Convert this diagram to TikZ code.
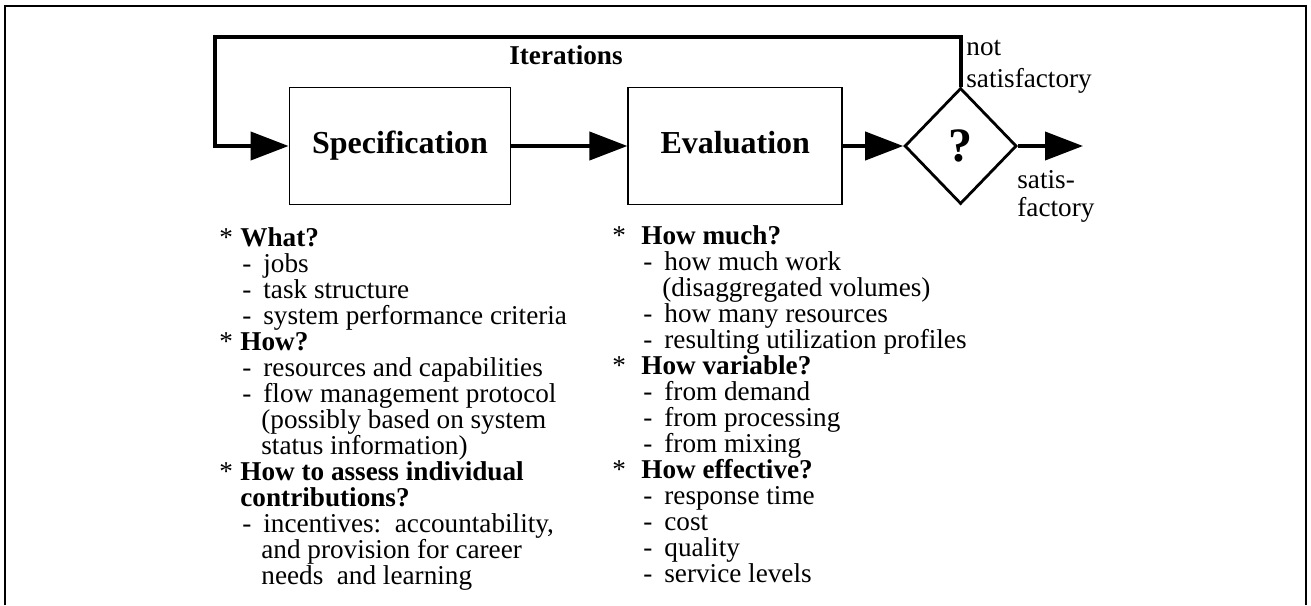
\documentclass[tikz,border=0pt]{standalone}
\usepackage{fontspec}
\setmainfont{Liberation Serif}
\usetikzlibrary{arrows.meta,shapes.geometric,positioning}

\newlength{\starw}
\newcommand{\hd}[1]{\makebox[\starw][l]{*}\textbf{#1}}
\newcommand{\hdc}[1]{\hspace*{\starw}\textbf{#1}}
\newcommand{\itm}[1]{\hspace*{\starw}\hspace*{1pt}\makebox[10.5pt][l]{-}#1}
\newcommand{\cnt}[1]{\hspace*{\starw}\hspace*{10.5pt}#1}
\newcommand{\listfont}{\fontsize{13.6}{13}\selectfont}

\begin{document}
\begin{tikzpicture}[x=0.5pt,y=-0.5pt]
\tikzset{>={Triangle[length=19pt,width=14pt]},
  box/.style={draw, line width=0.9pt, minimum width=110.5pt, minimum height=58.5pt,
    text height=11pt, text depth=4pt, font=\fontsize{16}{18}\selectfont\bfseries},
  decide/.style={diamond, draw, line width=1.4pt, inner sep=0pt,
    minimum width=56pt, minimum height=58pt, font=\fontsize{24}{26}\selectfont\bfseries},
  flow/.style={->, line width=2pt},
  lbl/.style={inner sep=0pt, align=left, anchor=base west},
  listing/.style={inner sep=0pt, align=left, anchor=base west}}
\useasboundingbox (0,0) rectangle (1311,605);

% frame, open at the bottom
\draw[line width=1.2pt] (5,605) |- (1306,6) -- (1306,605);

\node[box] (spec) at (400,146) {Specification};
\node[box, minimum width=107pt, right=58pt of spec] (eval) {Evaluation};
\node[decide, right=30pt of eval] (quest) {?};

\coordinate (loopnw) at (215,37);
\coordinate (out) at (1083,146);

\draw[flow] (spec) -- (eval);
\draw[flow] (eval) -- (quest);
\draw[flow] (quest) -- (out);
\draw[flow] (quest.north) |- (loopnw) |- (spec.west);

\node[lbl, anchor=base, font=\listfont\bfseries] (iter) at (566,64) {Iterations};
\node[lbl, font=\fontsize{13.6}{16}\selectfont] (notsat) at (966,87) {not\\satisfactory};
\node[lbl, font=\fontsize{13.6}{14}\selectfont] (sat) at (1017,216) {satis-\\factory};

% what goes into each step (base = last line)
\node[listing, font=\listfont\setlength{\starw}{10.5pt}] (speclist) at (219,584) {%
  \hd{What?}\\
  \itm{jobs}\\
  \itm{task structure}\\
  \itm{system performance criteria}\\
  \hd{How?}\\
  \itm{resources and capabilities}\\
  \itm{flow management protocol}\\
  \cnt{(possibly based on system}\\
  \cnt{status information)}\\
  \hd{How to assess individual}\\
  \hdc{contributions?}\\
  \itm{incentives:\ \ accountability,}\\
  \cnt{and provision for career}\\
  \cnt{needs\ \ and learning}};

\node[listing, font=\listfont\setlength{\starw}{14.5pt}] (evallist) at (612,582) {%
  \hd{How much?}\\
  \itm{how much work}\\
  \cnt{(disaggregated volumes)}\\
  \itm{how many resources}\\
  \itm{resulting utilization profiles}\\
  \hd{How variable?}\\
  \itm{from demand}\\
  \itm{from processing}\\
  \itm{from mixing}\\
  \hd{How effective?}\\
  \itm{response time}\\
  \itm{cost}\\
  \itm{quality}\\
  \itm{service levels}};
\end{tikzpicture}
\end{document}
